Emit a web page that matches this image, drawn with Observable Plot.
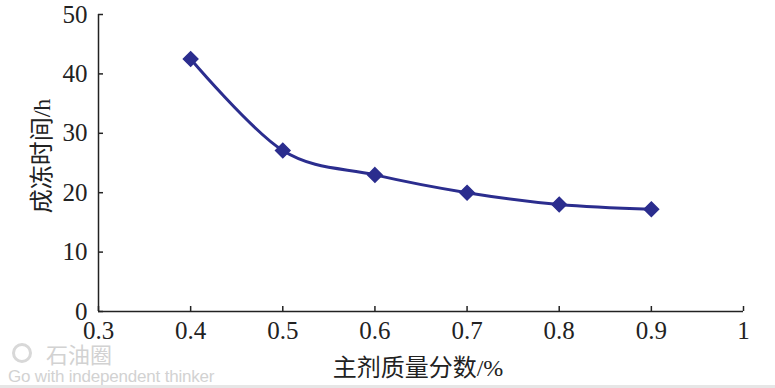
<!DOCTYPE html>
<html><head><meta charset="utf-8">
<script src="https://cdn.jsdelivr.net/npm/d3@7"></script>
<script src="https://cdn.jsdelivr.net/npm/@observablehq/plot@0.6"></script>
<style>
body{margin:0;background:#fff;}
#wrap{position:relative;width:775px;height:388px;overflow:hidden;}
#chart g[aria-label$="tick label"] text{font-size:25px !important;font-family:"Liberation Serif",serif !important;}
#wm{position:absolute;left:8px;top:340px;color:#d2d2d2;font-family:"Liberation Sans","Noto Sans",sans-serif;}
#wm .a{font-size:22px;line-height:26px;font-family:"Noto Sans CJK SC";display:flex;align-items:center;}
#wm .logo{width:20px;height:20px;border-radius:50%;border:3px solid #d8d8d8;box-sizing:border-box;margin:0 14px 0 4px;}
#wm .b{font-size:17px;line-height:21px;letter-spacing:-0.2px;}
#line{position:absolute;left:0;top:385px;width:775px;height:3px;background:#e6e6e6;}
</style></head>
<body><div id="wrap"><div id="chart"></div><div id="wm"><div class="a"><span class="logo"></span>石油圈</div><div class="b">Go with independent thinker</div></div><div id="line"></div></div>
<script>
const concentration = [0.4, 0.5, 0.6, 0.7, 0.8, 0.9];
const gelTime = [42.5, 27.1, 23.0, 20.0, 18.0, 17.2];
const xTicks = [0.3, 0.4, 0.5, 0.6, 0.7, 0.8, 0.9, 1];
const yTicks = [0, 10, 20, 30, 40, 50];
const xTitle = "主剂质量分数/%";
const yTitle = "成冻时间/h";
const data = concentration.map((c, i) => ({c, t: gelTime[i]}));
const color = "#2b2d8e";
const serif = "Liberation Serif, Noto Sans CJK SC, serif";

const chart = Plot.plot({
  width: 775, height: 388,
  marginLeft: 98, marginRight: 32, marginTop: 14, marginBottom: 77,
  style: {fontFamily: serif, fontSize: "25px", color: "#222", background: "transparent", overflow: "visible"},
  x: {domain: [0.3, 1]},
  y: {domain: [0, 50]},
  marks: [
    Plot.ruleX([0.3], {stroke: "#222", strokeWidth: 1.5}),
    Plot.ruleY([0], {stroke: "#222", strokeWidth: 1.5}),
    Plot.axisX({ticks: xTicks, tickSize: -5, tickPadding: 15, fontSize: 25, tickFormat: d => String(d), stroke: "#222", strokeWidth: 1.5, label: null}),
    Plot.axisY({ticks: yTicks, tickSize: -5, tickPadding: 16, fontSize: 25, stroke: "#222", strokeWidth: 1.5, label: null}),
    Plot.line(data, {x: "c", y: "t", stroke: color, strokeWidth: 3, curve: d3.curveCardinal.tension(0)}),
    Plot.dot(data, {x: "c", y: "t", symbol: "diamond2", r: 6.5, fill: color, stroke: color})
  ]
});
document.getElementById("chart").appendChild(chart);
const svg = d3.select(chart);
svg.selectAll("g[aria-label$='tick label']").attr("font-size", 25);
svg.append("text").attr("x", 418).attr("y", 376).attr("text-anchor", "middle")
  .attr("font-family", serif).attr("font-size", 24).attr("fill", "#222")
  .text(xTitle);
svg.append("text").attr("transform", "translate(50,156) rotate(-90)").attr("text-anchor", "middle")
  .attr("font-family", serif).attr("font-size", 24).attr("fill", "#222")
  .text(yTitle);
</script></body></html>
